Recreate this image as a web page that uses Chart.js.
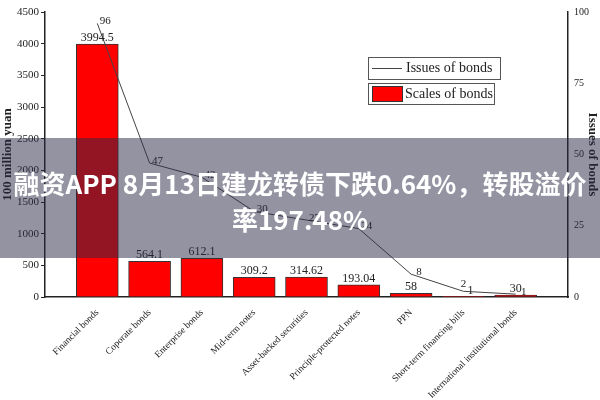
<!DOCTYPE html>
<html>
<head>
<meta charset="utf-8">
<script src="https://cdn.jsdelivr.net/npm/chart.js@4.4.0/dist/chart.umd.min.js"></script>
<style>
  html, body { margin: 0; padding: 0; background: #fff; }
  #wrap { position: relative; width: 600px; height: 400px; }
  #overlay {
    position: absolute; left: 0; top: 138px; width: 600px; height: 120px;
    background: rgba(40, 40, 70, 0.5);
    color: #fff; font-family: "Noto Sans CJK SC", sans-serif; font-weight: bold;
    font-size: 26px; line-height: 36px; text-align: center;
    padding-top: 27px; box-sizing: border-box; white-space: nowrap;
  }
</style>
</head>
<body>
<div id="wrap">
  <canvas id="chart" width="600" height="400"></canvas>
  <div id="overlay">融资APP 8月13日建龙转债下跌0.64%，转股溢价<br>率197.48%</div>
</div>
<script>
const categories = ['Financial bonds', 'Coporate bonds', 'Enterprise bonds', 'Mid-term notes',
    'Asset-backed securities', 'Principle-protected notes', 'PPN', 'Short-term financing bills',
    'International institutional bonds'];
const scales = [3994.5, 564.1, 612.1, 309.2, 314.62, 193.04, 58, 1, 30];
const issues = [96, 47, 42, 30, 27, 24, 8, 2, 1];
const scaleLabels = ['3994.5', '564.1', '612.1', '309.2', '314.62', '193.04', '58', '1', '30'];

const serif = 'Liberation Serif';

// draws value labels and the boxed legend
const annotate = {
    id: 'annotate',
    afterDatasetsDraw(chart) {
        const ctx = chart.ctx;
        ctx.save();
        ctx.fillStyle = '#222';
        ctx.font = '12px "' + serif + '"';
        ctx.textAlign = 'center';
        ctx.textBaseline = 'alphabetic';
        chart.getDatasetMeta(0).data.forEach((bar, i) => {
            const dx = i === 7 ? 7 : 0;
            ctx.fillText(scaleLabels[i], bar.x + dx, bar.y - 3);
        });
        ctx.font = '11px "' + serif + '"';
        ctx.textBaseline = 'middle';
        chart.getDatasetMeta(1).data.forEach((pt, i) => {
            const dx = i === 7 ? 0 : 8;
            const dy = i === 7 ? -7 : -2;
            ctx.fillText(String(issues[i]), pt.x + dx, pt.y + dy);
        });

        // legend
        ctx.strokeStyle = '#555';
        ctx.lineWidth = 1;
        ctx.strokeRect(368.5, 57.5, 132, 22);
        ctx.strokeRect(368.5, 83.5, 126, 21);
        ctx.beginPath();
        ctx.moveTo(372, 68.5);
        ctx.lineTo(402, 68.5);
        ctx.strokeStyle = '#444';
        ctx.stroke();
        ctx.fillStyle = '#ff0000';
        ctx.fillRect(372, 86, 30, 15);
        ctx.strokeStyle = '#333';
        ctx.strokeRect(372.5, 86.5, 30, 15);
        ctx.fillStyle = '#222';
        ctx.font = '14px "' + serif + '"';
        ctx.textAlign = 'left';
        ctx.fillText('Issues of bonds', 406, 68);
        ctx.fillText('Scales of bonds', 405, 94);
        ctx.restore();
    }
};

new Chart(document.getElementById('chart'), {
    type: 'bar',
    data: {
        datasets: [{
            type: 'bar',
            label: 'Scales of bonds',
            data: scales.map((v, i) => ({ x: i, y: v })),
            backgroundColor: '#ff0000',
            borderColor: '#333',
            borderWidth: 1,
            barThickness: 42,
            yAxisID: 'y',
            order: 2
        }, {
            type: 'line',
            label: 'Issues of bonds',
            data: issues.map((v, i) => ({ x: i, y: v })),
            borderColor: '#444',
            borderWidth: 1,
            pointRadius: 0,
            fill: false,
            tension: 0,
            yAxisID: 'y1',
            order: 1
        }]
    },
    options: {
        responsive: false,
        animation: false,
        layout: { padding: { top: 4, left: 0, right: 0, bottom: 0 } },
        plugins: { legend: { display: false }, tooltip: { enabled: false } },
        scales: {
            x: {
                type: 'linear',
                min: -1,
                max: 9,
                offset: false,
                afterFit(scale) { scale.height = 103; },
                grid: { display: false },
                border: { display: true, color: '#222', width: 1.5 },
                ticks: {
                    stepSize: 1,
                    autoSkip: false,
                    minRotation: 45,
                    maxRotation: 45,
                    padding: 2,
                    color: '#222',
                    font: { family: serif, size: 9.5 },
                    callback(v) {
                        return Number.isInteger(v) && v >= 0 && v < categories.length ? categories[v] : '';
                    }
                }
            },
            y: {
                position: 'left',
                min: 0,
                max: 4500,
                afterFit(scale) { scale.width = 45; },
                grid: { drawOnChartArea: false, tickLength: 4, color: '#222' },
                border: { display: true, color: '#222', width: 1.5 },
                ticks: {
                    stepSize: 500, color: '#222', padding: 2,
                    font: { family: serif, size: 11 },
                    callback: v => String(v)
                },
                title: {
                    display: true,
                    text: '100 million yuan',
                    color: '#222',
                    padding: 0,
                    font: { family: serif, size: 13, weight: 'bold' }
                }
            },
            y1: {
                position: 'right',
                min: 0,
                max: 100,
                afterFit(scale) { scale.width = 32; },
                grid: { drawOnChartArea: false, drawTicks: false },
                border: { display: true, color: '#222', width: 1.5 },
                ticks: {
                    stepSize: 25, color: '#222', padding: 6,
                    font: { family: serif, size: 10 },
                    callback: v => String(v)
                },
                title: {
                    display: true,
                    text: 'Issues of bonds',
                    color: '#222',
                    padding: 0,
                    font: { family: serif, size: 13, weight: 'bold' }
                }
            }
        }
    },
    plugins: [annotate]
});
</script>
</body>
</html>
